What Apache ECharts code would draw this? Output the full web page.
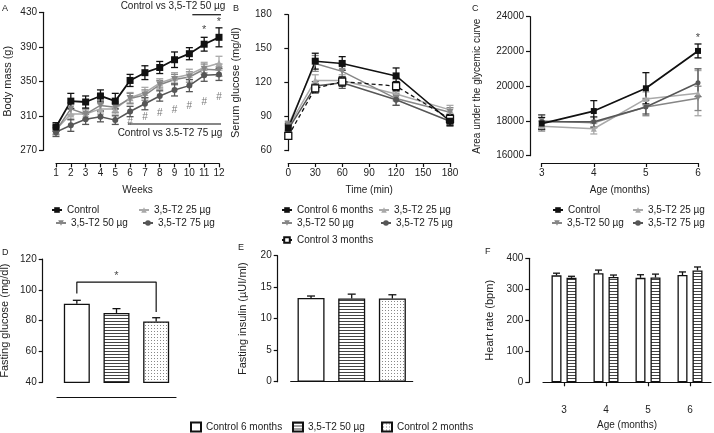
<!DOCTYPE html>
<html>
<head>
<meta charset="utf-8">
<script src="https://cdn.jsdelivr.net/npm/echarts@6.0.0/dist/echarts.min.js"></script>
<style>
  html, body { margin: 0; padding: 0; background: #fff; }
  #chart { width: 714px; height: 433px; }
</style>
</head>
<body>
<div id="chart"></div>
<script>
  // ---- data ----
  const weeks = [1, 2, 3, 4, 5, 6, 7, 8, 9, 10, 11, 12];
  const massControl = [297, 327, 326, 333, 327, 351, 360, 366, 375, 382, 393, 401];
  const massControlErr = [5, 9, 7, 7, 9, 7, 8, 7, 9, 7, 8, 11];
  const massT25 = [294, 312, 312, 318, 318, 331, 337, 348, 354, 358, 366, 371];
  const massT25Err = [5, 7, 6, 6, 6, 6, 6, 5, 6, 6, 6, 8];
  const massT50 = [293, 318, 312, 322, 320, 330, 334, 346, 352, 355, 364, 363];
  const massT50Err = [5, 7, 6, 6, 6, 6, 6, 5, 6, 6, 6, 7];
  const massT75 = [291, 299, 306, 309, 305, 315, 324, 333, 340, 345, 357, 358];
  const massT75Err = [5, 7, 6, 6, 5, 6, 7, 6, 7, 7, 7, 7];

  const glucoseTimes = [0, 30, 60, 120, 180];
  const gluControl6 = [80, 139, 137, 126, 86];
  const gluControl6Err = [4, 7, 6, 7, 4];
  const gluT25 = [81, 122, 122, 110, 96];
  const gluT25Err = [4, 5, 5, 6, 4];
  const gluT50 = [82, 137, 130, 106, 94];
  const gluT50Err = [4, 7, 6, 6, 4];
  const gluT75 = [79, 117, 120, 105, 86];
  const gluT75Err = [4, 4, 5, 5, 4];
  const gluControl3 = [73, 115, 121, 117, 88];
  const gluControl3Err = [3, 4, 4, 4, 4];

  const ageMonths = [3, 4, 5, 6];
  const aucControl = [17850, 18570, 19880, 22030];
  const aucControlErr = [350, 600, 900, 400];
  const aucT25 = [17700, 17550, 19270, 19600];
  const aucT25Err = [300, 300, 400, 1300];
  const aucT50 = [18000, 17900, 18800, 19300];
  const aucT50Err = [350, 300, 500, 700];
  const aucT75 = [17950, 17950, 18800, 20200];
  const aucT75Err = [400, 300, 400, 800];

  const barGroups = ['Control 6 months', '3,5-T2 50 µg', 'Control 2 months'];
  const fastingGlucose = [91, 85, 79.5];
  const fastingGlucoseErr = [2.2, 2.8, 2.4];
  const fastingInsulin = [13.3, 13.2, 13.2];
  const fastingInsulinErr = [0.3, 0.7, 0.6];

  const heartAges = ['3', '4', '5', '6'];
  const heartControl = [345, 352, 337, 346];
  const heartControlErr = [7, 10, 10, 10];
  const heartT50 = [337, 340, 338, 361];
  const heartT50Err = [5, 6, 11, 11];

  // significance marks (data units)
  const starWeeks = [11, 12];
  const starMass = [409.5, 418.5];
  const hashWeeks = [6, 7, 8, 9, 10, 11, 12];
  const hashMass = [302, 308, 313, 317, 320.5, 326, 331];
  const line75 = [[5.85, 300.5], [12.45, 300.5]];
  const line50 = [[10.2, 427.2], [12.25, 427.2]];
  const bracketD = [[0, 97.6], [0, 105], [2, 105], [2, 85.6]];

  const FONT = 'Liberation Sans, Arial, sans-serif';
  const INK = '#111';
  const TXT = '#222';

  // ---- fill patterns ----
  function stripes() {
    const c = document.createElement('canvas');
    c.width = 4; c.height = 3;
    const g = c.getContext('2d');
    g.fillStyle = '#fff'; g.fillRect(0, 0, 4, 3);
    g.fillStyle = '#444'; g.fillRect(0, 0, 4, 1);
    return { image: c, repeat: 'repeat' };
  }
  function dots() {
    const c = document.createElement('canvas');
    c.width = 3; c.height = 3;
    const g = c.getContext('2d');
    g.fillStyle = '#fff'; g.fillRect(0, 0, 3, 3);
    g.fillStyle = '#888'; g.fillRect(1, 1, 1, 1);
    return { image: c, repeat: 'repeat' };
  }
  const fills = ['#fff', stripes(), dots()];
  const barNames = barGroups.map(n => 'bar|' + n);

  // ---- helpers ----
  const axisLine = { show: true, lineStyle: { color: INK, width: 1.2 } };
  const axisTick = { show: true, length: 4, lineStyle: { color: INK, width: 1.2 } };
  const label = { fontSize: 10, fontFamily: FONT, color: TXT, formatter: v => String(v) };

  function yAx(i, min, max, interval, name, offset, nameGap, nameSize) {
    return {
      gridIndex: i, type: 'value', min: min, max: max, interval: interval, offset: offset,
      name: name, nameLocation: 'middle', nameGap: nameGap, nameMoveOverlap: false,
      nameTextStyle: { fontSize: nameSize || 11, fontFamily: FONT, color: TXT },
      axisLine: axisLine, axisTick: axisTick, splitLine: { show: false },
      axisLabel: Object.assign({ margin: 6 }, label)
    };
  }
  function xVal(i, min, max, interval, name, offset) {
    return {
      gridIndex: i, type: 'value', min: min, max: max, interval: interval, offset: offset,
      name: name, nameLocation: 'middle', nameGap: 22, nameMoveOverlap: false,
      nameTextStyle: { fontSize: 10, fontFamily: FONT, color: TXT },
      axisLine: axisLine, axisTick: axisTick, splitLine: { show: false },
      axisLabel: Object.assign({ margin: 5 }, label)
    };
  }
  function xCat(i, data, offset, extra) {
    return Object.assign({
      gridIndex: i, type: 'category', data: data, offset: offset,
      axisLine: axisLine, axisTick: { show: false }, axisLabel: { show: false },
      splitLine: { show: false }
    }, extra);
  }

  function lineS(name, i, xs, ys, color, symbol, size, extra) {
    return Object.assign({
      name: name, type: 'line', xAxisIndex: i, yAxisIndex: i, clip: false,
      data: xs.map((x, k) => [x, ys[k]]),
      symbol: symbol, symbolSize: size, showSymbol: true,
      itemStyle: { color: color },
      lineStyle: { color: color, width: 1.5 }, z: 3
    }, extra);
  }

  function errRender(capHalf, dx, lowCap) {
    return function (params, api) {
      const x = api.value(0);
      const lo = api.coord([x, api.value(1)]);
      const hi = api.coord([x, api.value(2)]);
      const px = lo[0] + dx;
      const st = { stroke: api.visual('color'), lineWidth: 1.3 };
      const kids = [
        { type: 'line', shape: { x1: px, y1: lo[1], x2: px, y2: hi[1] }, style: st },
        { type: 'line', shape: { x1: px - capHalf, y1: hi[1], x2: px + capHalf, y2: hi[1] }, style: st }
      ];
      if (lowCap) kids.push({ type: 'line', shape: { x1: px - capHalf, y1: lo[1], x2: px + capHalf, y2: lo[1] }, style: st });
      return { type: 'group', children: kids };
    };
  }
  function errS(i, xs, ys, es, color) {
    return {
      type: 'custom', xAxisIndex: i, yAxisIndex: i, clip: false, silent: true, z: 2,
      itemStyle: { color: color }, encode: { x: 0, y: [1, 2] },
      renderItem: errRender(3.5, 0, true),
      data: xs.map((x, k) => [x, ys[k] - es[k], ys[k] + es[k]])
    };
  }
  function barErrS(i, ys, es, dx, cap) {
    return {
      type: 'custom', xAxisIndex: i, yAxisIndex: i, clip: false, silent: true, z: 4,
      itemStyle: { color: INK }, encode: { x: 0, y: [1, 2] },
      renderItem: errRender(cap, dx, false),
      data: ys.map((y, k) => [k, y, y + es[k]])
    };
  }
  function marks(i, pts, text, color, size) {
    return {
      type: 'scatter', xAxisIndex: i, yAxisIndex: i, clip: false, silent: true,
      symbolSize: 1, itemStyle: { color: 'rgba(0,0,0,0)' }, z: 5,
      label: { show: true, position: 'inside', formatter: text, fontSize: size, fontFamily: FONT, color: color },
      data: pts
    };
  }
  function plainLine(i, pts, extra) {
    return Object.assign({
      type: 'line', xAxisIndex: i, yAxisIndex: i, clip: false, silent: true,
      symbol: 'none', lineStyle: { color: INK, width: 1.2 }, data: pts, z: 5
    }, extra);
  }

  function leg(name, x, y, extra) {
    return Object.assign({
      data: [name], left: x, top: y - 6, padding: 0, itemWidth: 10, itemHeight: 7,
      selectedMode: false, formatter: n => n.replace(/^bar\|/, ''),
      textStyle: { fontSize: 10, fontFamily: FONT, color: TXT, lineHeight: 12 }
    }, extra);
  }

  const C = INK, G25 = '#a9a9a9', G50 = '#868686', G75 = '#565656';

  // ---- series ----
  const series = [
    // A
    errS(0, weeks, massT25, massT25Err, G25),
    errS(0, weeks, massT50, massT50Err, G50),
    errS(0, weeks, massT75, massT75Err, G75),
    errS(0, weeks, massControl, massControlErr, C),
    lineS('3,5-T2 25 µg', 0, weeks, massT25, G25, 'triangle', 7),
    lineS('3,5-T2 50 µg', 0, weeks, massT50, G50, 'triangle', 7, { symbolRotate: 180 }),
    lineS('3,5-T2 75 µg', 0, weeks, massT75, G75, 'circle', 6),
    lineS('Control', 0, weeks, massControl, C, 'rect', 7, { lineStyle: { color: C, width: 1.8 } }),
    marks(0, starWeeks.map((w, k) => [w, starMass[k]]), '*', INK, 11),
    marks(0, hashWeeks.map((w, k) => [w, hashMass[k]]), '#', '#555', 10),
    plainLine(0, line75),
    plainLine(0, line50),
    // B
    errS(1, glucoseTimes, gluT25, gluT25Err, G25),
    errS(1, glucoseTimes, gluT50, gluT50Err, G50),
    errS(1, glucoseTimes, gluT75, gluT75Err, G75),
    errS(1, glucoseTimes, gluControl3, gluControl3Err, C),
    errS(1, glucoseTimes, gluControl6, gluControl6Err, C),
    lineS('3,5-T2 25 µg', 1, glucoseTimes, gluT25, G25, 'triangle', 7),
    lineS('3,5-T2 50 µg', 1, glucoseTimes, gluT50, G50, 'triangle', 7, { symbolRotate: 180 }),
    lineS('3,5-T2 75 µg', 1, glucoseTimes, gluT75, G75, 'circle', 6),
    lineS('Control 3 months', 1, glucoseTimes, gluControl3, C, 'rect', 7, {
      itemStyle: { color: '#fff', borderColor: C, borderWidth: 1.3 },
      lineStyle: { color: C, width: 1.3, type: [4, 3] }
    }),
    lineS('Control 6 months', 1, glucoseTimes, gluControl6, C, 'rect', 7),
    // C
    errS(2, ageMonths, aucT25, aucT25Err, G25),
    errS(2, ageMonths, aucT50, aucT50Err, G50),
    errS(2, ageMonths, aucT75, aucT75Err, G75),
    errS(2, ageMonths, aucControl, aucControlErr, C),
    lineS('3,5-T2 25 µg', 2, ageMonths, aucT25, G25, 'triangle', 6),
    lineS('3,5-T2 50 µg', 2, ageMonths, aucT50, G50, 'triangle', 6, { symbolRotate: 180 }),
    lineS('3,5-T2 75 µg', 2, ageMonths, aucT75, G75, 'circle', 5),
    lineS('Control', 2, ageMonths, aucControl, C, 'rect', 6, { lineStyle: { color: C, width: 1.8 } }),
    marks(2, [[6, 22780]], '*', INK, 11)
  ];

  // D and E: one bar series per group so that the bottom legend can name them
  [[3, fastingGlucose, fastingGlucoseErr, 26], [4, fastingInsulin, fastingInsulinErr, 27]].forEach(([i, vals, errs, bw]) => {
    barGroups.forEach((g, k) => {
      series.push({
        name: barNames[k], type: 'bar', xAxisIndex: i, yAxisIndex: i,
        barWidth: bw, barGap: '-100%',
        data: vals.map((v, j) => (j === k ? v : '-')),
        itemStyle: { color: fills[k], borderColor: INK, borderWidth: 1.3 }
      });
    });
    series.push(barErrS(i, vals, errs, 0, 4));
  });
  series.push(plainLine(3, bracketD));
  series.push(marks(3, [[1, 109]], '*', INK, 11));

  // F
  series.push({
    name: barNames[0], type: 'bar', xAxisIndex: 5, yAxisIndex: 5, barWidth: 10, barGap: '50%',
    data: heartControl, itemStyle: { color: fills[0], borderColor: INK, borderWidth: 1.3 }
  });
  series.push({
    name: barNames[1], type: 'bar', xAxisIndex: 5, yAxisIndex: 5, barWidth: 10, barGap: '50%',
    data: heartT50, itemStyle: { color: fills[1], borderColor: INK, borderWidth: 1.3 }
  });
  series.push(barErrS(5, heartControl, heartControlErr, -7.5, 3.5));
  series.push(barErrS(5, heartT50, heartT50Err, 7.5, 3.5));

  const ptext = (t, x, y, size, align) => ({
    type: 'text', x: x, y: y,
    style: { text: t, fontSize: size, fontFamily: FONT, fill: TXT, textAlign: align || 'left' }
  });

  const grids = [
    { left: 56, top: 12.3, width: 163, height: 138 },
    { left: 288.3, top: 14.7, width: 161.7, height: 136 },
    { left: 541.7, top: 16.7, width: 156.3, height: 139 },
    { left: 57, top: 259, width: 119, height: 123.3 },
    { left: 290.7, top: 255.7, width: 122, height: 126 },
    { left: 543, top: 258.3, width: 168, height: 124 }
  ].map(g => Object.assign({ outerBoundsMode: 'none', containLabel: false }, g));

  const option = {
    animation: false,
    backgroundColor: '#fff',
    grid: grids,
    xAxis: [
      xVal(0, 1, 12, 1, 'Weeks', 13),
      xVal(1, 0, 180, 30, 'Time (min)', 12.3),
      xVal(2, 3, 6, 1, 'Age (months)', 7.3),
      xCat(3, barGroups, 15),
      xCat(4, barGroups, 15),
      xCat(5, heartAges, 14.7, {
        axisTick: { show: true, alignWithLabel: true, length: 4, lineStyle: { color: INK, width: 1.2 } },
        axisLabel: { show: true, margin: 8, fontSize: 10, fontFamily: FONT, color: TXT },
        name: 'Age (months)', nameLocation: 'middle', nameGap: 23, nameMoveOverlap: false,
        nameTextStyle: { fontSize: 10, fontFamily: FONT, color: TXT }
      })
    ],
    yAxis: [
      yAx(0, 270, 430, 40, 'Body mass (g)', 13, 30),
      yAx(1, 60, 180, 30, 'Serum glucose (mg/dl)', 10.6, 36),
      yAx(2, 16000, 24000, 2000, 'Area under the glycemic curve', 11.7, 48, 10),
      yAx(3, 40, 120, 20, 'Fasting glucose (mg/dl)', 14.3, 32),
      yAx(4, 0, 20, 5, 'Fasting insulin (µUI/ml)', 13, 29),
      yAx(5, 0, 400, 100, 'Heart rate (bpm)', 13.7, 34)
    ],
    legend: [
      leg('Control', 51, 210),
      leg('3,5-T2 25 µg', 138, 210),
      leg('3,5-T2 50 µg', 55, 223),
      leg('3,5-T2 75 µg', 142, 223),
      leg('Control 6 months', 281, 210),
      leg('3,5-T2 25 µg', 378, 210),
      leg('3,5-T2 50 µg', 281, 223),
      leg('3,5-T2 75 µg', 380, 223),
      leg('Control 3 months', 281, 240),
      leg('Control', 552, 210),
      leg('3,5-T2 25 µg', 632, 210),
      leg('3,5-T2 50 µg', 551, 223),
      leg('3,5-T2 75 µg', 632, 223),
      leg(barNames[0], 190, 427, { itemWidth: 10, itemHeight: 9, icon: 'rect' }),
      leg(barNames[1], 292, 427, { itemWidth: 10, itemHeight: 9, icon: 'rect' }),
      leg(barNames[2], 381, 427, { itemWidth: 10, itemHeight: 9, icon: 'rect' })
    ],
    graphic: [
      ptext('A', 2, 4, 9),
      ptext('B', 233, 4, 9),
      ptext('C', 472, 4, 9),
      ptext('D', 2, 248, 9),
      ptext('E', 238, 243, 9),
      ptext('F', 485, 247, 9),
      ptext('Control vs 3,5-T2 50 µg', 173, 1, 10, 'center'),
      ptext('Control vs 3.5-T2 75 µg', 170, 128, 10, 'center')
    ],
    series: series
  };

  const chart = echarts.init(document.getElementById('chart'));
  chart.setOption(option);
</script>
</body>
</html>
